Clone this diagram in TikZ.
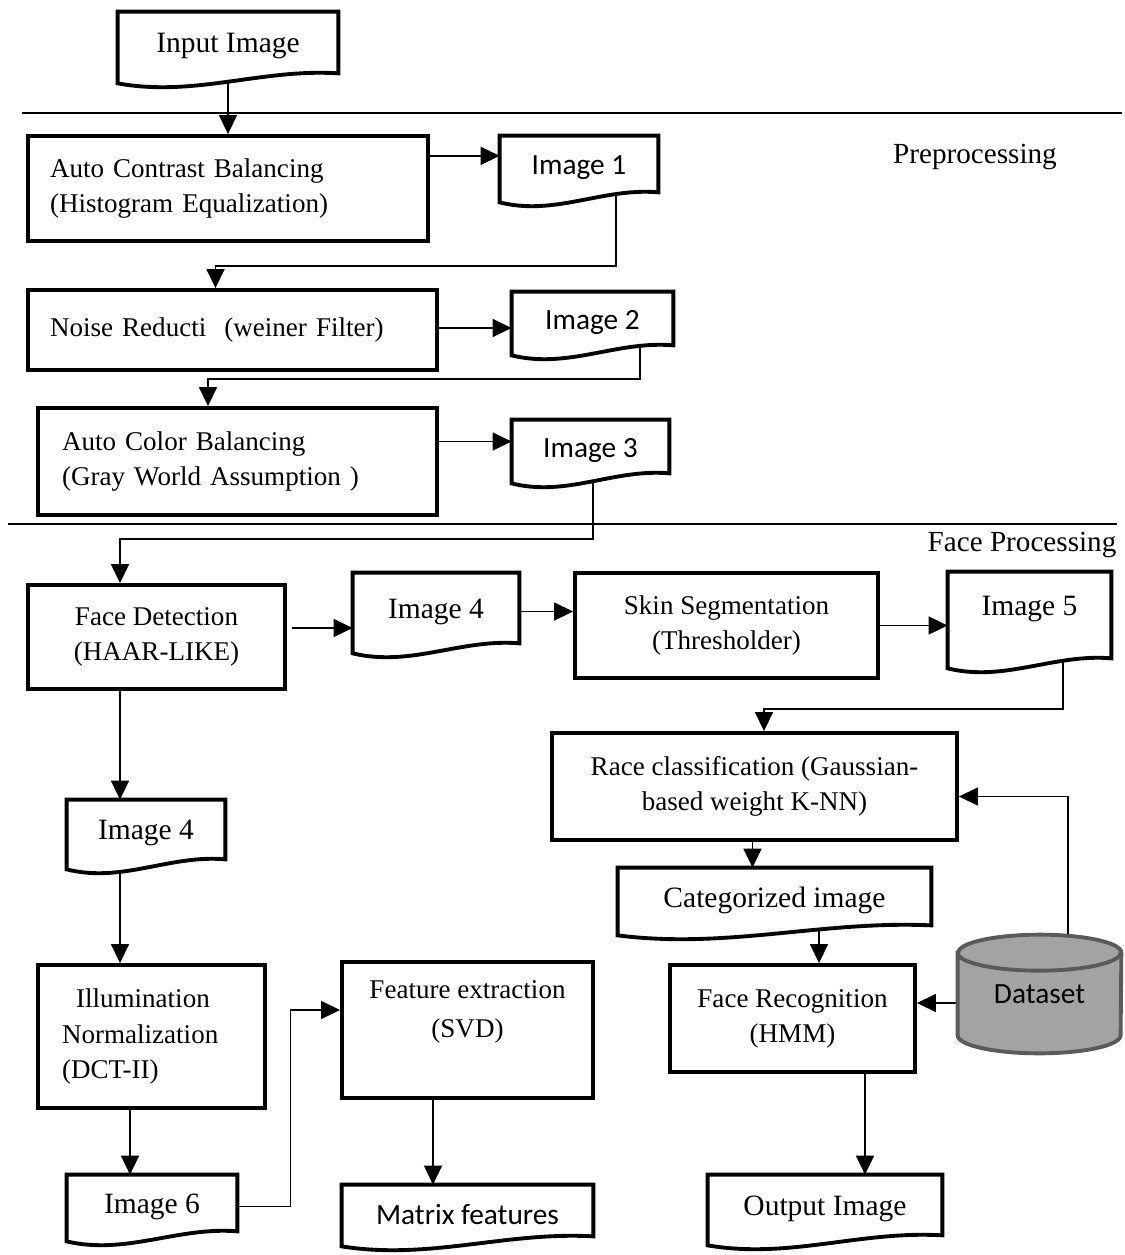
\documentclass[tikz,border=0pt]{standalone}
\usepackage{fontspec}
\setmainfont{Liberation Serif}
\newfontfamily\calibrifont{Carlito}
\usepackage{xcolor}
\definecolor{dbgray}{HTML}{A3A3A3}
\definecolor{dbedge}{HTML}{5A5A5A}
\usepackage{tikz}
\usetikzlibrary{positioning, arrows.meta, shapes.geometric, calc, backgrounds}
\pgfdeclarelayer{docs}
\pgfsetlayers{background,docs,main}
\tikzset{
    sz/.style 2 args = {minimum width=#1*0.02cm, minimum height=#2*0.02cm},
    procbox/.style = {rectangle, draw, line width=2.2pt, fill=white, inner sep=0pt,
                      font=\fontsize{15.4}{20}\selectfont},
    docnode/.style = {rectangle, inner sep=0pt, font=\fontsize{16.8}{20}\selectfont},
    sansdoc/.style = {docnode, font=\calibrifont\fontsize{16.7}{20}\selectfont},
    docline/.style = {draw, line width=2.2pt, fill=white},
    arrow/.style = {-{Triangle[length=0.38cm, width=0.36cm]}, line width=0.9pt},
    dbnode/.style = {rectangle, inner sep=0pt,
                     font=\calibrifont\fontsize{16.7}{20}\selectfont},
    dbline/.style = {draw=dbedge, line width=2.2pt},
    stage/.style = {font=\fontsize{16.6}{20}\selectfont},
}
\newcommand{\docshape}[1]{%
  \draw[docline] ($(#1.south west)+(0,3)$) -- (#1.north west) -- (#1.north east)
    -- ($(#1.south east)+(0,-7)$)
    .. controls ($(#1.south west)!0.65!(#1.south east)+(0,-12)$)
    and ($(#1.south west)!0.35!(#1.south east)+(0,17)$) .. cycle;}
\newcommand{\dbshape}[1]{%
  \path[dbline, fill=dbgray] ($(#1.north west)+(0,18)$) -- ($(#1.south west)+(0,-18)$)
    arc[start angle=180, end angle=360, x radius=1.63cm, y radius=0.36cm]
    -- ($(#1.north east)+(0,18)$)
    arc[start angle=0, end angle=180, x radius=1.63cm, y radius=0.36cm] -- cycle;
  \draw[dbline] ($(#1.north west)+(0,18)$)
    arc[start angle=180, end angle=360, x radius=1.63cm, y radius=0.36cm];}

\begin{document}
\begin{tikzpicture}[x=0.02cm, y=-0.02cm]
    \useasboundingbox (0,0) rectangle (1125,1255);
    % stage separators
    \draw[line width=0.9pt] (22,113) -- (1122,113);
    \draw[line width=0.9pt] (8,524) -- (1117,524);
    \node[stage] (pre) at (975,157) {Preprocessing};
    \node[stage] (fproc) at (1022,545) {Face Processing};

    % preprocessing
    \node[docnode, sz={220}{68}] (inp) at (228,46) {Input Image};
    \node[procbox, sz={400}{105}, text width=7.12cm, align=left] (acb) at (228,188.5)
          {Auto Contrast Balancing\\(Histogram Equalization)};
    \node[sansdoc, sz={158}{63}] (img1) at (579,167.5) {Image 1};
    \node[procbox, sz={409}{80}, text width=7.3cm, align=left] (nr) at (232.5,330)
          {Noise Reducti\ \ (weiner Filter)};
    \node[sansdoc, sz={161}{60}] (img2) at (592.5,322) {Image 2};
    \node[procbox, sz={399}{107}, text width=7.02cm, align=left] (acol) at (237.5,461.5)
          {Auto Color Balancing\\(Gray World Assumption )};
    \node[sansdoc, sz={157}{60}] (img3) at (590.5,450) {Image 3};

    % face processing
    \node[procbox, sz={257}{104}, align=center] (fd) at (156.5,637)
          {Face Detection\\(HAAR-LIKE)};
    \node[docnode, sz={166}{77}] (img4) at (436,611.5) {Image 4};
    \node[procbox, sz={303}{105}, align=center] (ss) at (726.5,625.5)
          {Skin Segmentation\\(Thresholder)};
    \node[docnode, sz={163}{93}, text depth=0.5cm] (img5) at (1029.5,618.5) {Image 5};
    \node[procbox, sz={405}{107}, align=center] (race) at (754.5,786.5)
          {Race classification (Gaussian-\\based weight K-NN)};
    \node[docnode, sz={158}{66}] (img4b) at (146,833) {Image 4};
    \node[procbox, sz={227}{143}, text width=3.58cm, align=left] (illum) at (151.5,1036.5)
          {\hspace*{0.28cm}Illumination\\Normalization\\(DCT-II)};
    \node[docnode, sz={170}{63}] (img6) at (152,1206.5) {Image 6};
    \node[procbox, sz={251}{136}] (fe) at (467.5,1030)
          {\begin{tabular}{@{}c@{}}Feature extraction\\[2pt](SVD)\\[22pt]\end{tabular}};
    \node[sansdoc, sz={251}{58}] (mf) at (467.5,1214) {Matrix features};
    \node[docnode, sz={313}{64}] (cat) at (774.5,900) {Categorized image};
    \node[procbox, sz={245}{107}, align=center] (fr) at (792.5,1018.5)
          {Face Recognition\\(HMM)};
    \node[docnode, sz={234}{67}] (out) at (825,1208.5) {Output Image};
    \node[dbnode, sz={163}{118}] (ds) at (1039.5,994) {Dataset};

    % document and store outlines
    \begin{pgfonlayer}{docs}
    \foreach \d in {inp, img1, img2, img3, img4, img5, img4b, img6, mf, cat, out}
        \docshape{\d};
    \dbshape{ds};
    \end{pgfonlayer}

    \begin{scope}[on background layer]
    \draw[arrow] (inp) -- (acb);
    \draw[arrow] ($(acb.north east)!0.2!(acb.south east)$) coordinate (a1) -- (a1 -| img1.west);
    \draw[arrow] ($(img1.center)+(37,0)$) |- ($(nr.north)+(-17,-22)$) -- ($(nr.north)+(-17,0)$);
    \draw[arrow] ($(nr.east)+(0,-2)$) coordinate (a2) -- (a2 -| img2.west);
    \draw[arrow] ($(img2.center)+(47.5,0)$) |- ($(acol.north)+(-29.5,-27)$) -- ($(acol.north)+(-29.5,0)$);
    \draw[arrow] ($(acol.east)+(0,-20)$) coordinate (a3) -- (a3 -| img3.west);
    \draw[arrow] ($(img3.center)+(2.5,0)$) |- ($(fd.north)+(-36.5,-44)$) -- ($(fd.north)+(-36.5,0)$);
    \draw[arrow] ($(fd.east)+(5,-9)$) coordinate (a4) -- (a4 -| img4.west);
    \draw[arrow] (img4.east) -- (img4.east -| ss.west);
    \draw[arrow] (ss.east) -- (ss.east -| img5.west);
    \draw[arrow] ($(img5.center)+(33.5,0)$) |- ($(race.north)+(9.5,-22)$) -- ($(race.north)+(9.5,0)$);
    \draw[arrow] ($(fd.south)+(-36.5,0)$) coordinate (a5) -- (a5 |- img4b.north);
    \draw[arrow] ($(img4b.center)+(-26,0)$) coordinate (a6) -- (a6 |- illum.north);
    \draw[arrow] ($(illum.south)+(-21.5,0)$) coordinate (a7) -- (a7 |- img6.north);
    \draw[arrow] (img6.center) -- ($(img6.east)+(53,0)$) |- ($(fe.west)+(0,-20)$);
    \draw[arrow] ($(fe.south)+(-34.5,0)$) coordinate (a8) -- (a8 |- mf.north);
    \draw[arrow] ($(race.south)+(-2,0)$) coordinate (a9) -- (a9 |- cat.north);
    \draw[arrow] ($(cat.center)+(44.5,0)$) coordinate (a10) -- (a10 |- fr.north);
    \draw[arrow] ($(fr.south)+(72.5,0)$) coordinate (a11) -- (a11 |- out.north);
    \draw[arrow] ($(ds.center)+(28.5,0)$) |- ($(race.east)+(0,10)$);
    \draw[arrow] ($(ds.center)+(0,9)$) coordinate (a12) -- (a12 -| fr.east);
    \end{scope}
\end{tikzpicture}
\end{document}
